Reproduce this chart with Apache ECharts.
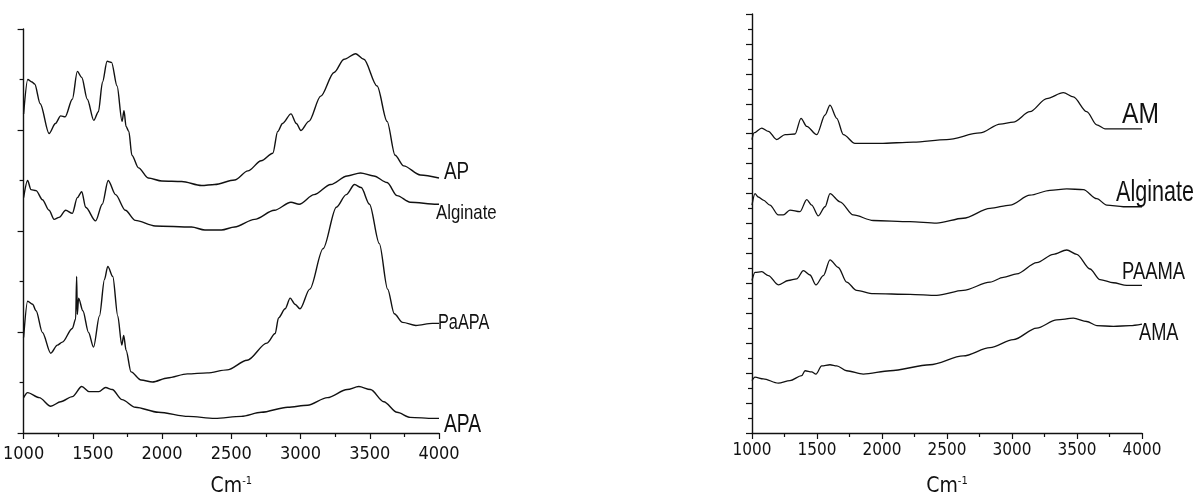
<!DOCTYPE html>
<html>
<head>
<meta charset="utf-8">
<script src="https://cdn.jsdelivr.net/npm/echarts@6/dist/echarts.min.js"></script>
<style>
html,body{margin:0;padding:0;background:#fff;}
#c{width:1196px;height:502px;}
</style>
</head>
<body>
<div id="c"></div>
<script>
// ---- Data (wavenumber cm^-1, relative transmittance offset units) ----
const xTicks = [1000, 1500, 2000, 2500, 3000, 3500, 4000];

// Left panel
const AP = [[1000,6.32],[1030,7.00],[1060,6.95],[1080,6.91],[1120,6.52],[1184,5.93],[1230,6.13],[1268,6.28],[1300,6.26],[1352,6.61],[1388,7.16],[1420,7.04],[1460,6.61],[1507,6.19],[1540,6.36],[1570,6.95],[1603,7.36],[1635,7.34],[1675,6.87],[1711,6.17],[1725,6.38],[1740,6.07],[1760,5.97],[1782,5.50],[1830,5.25],[1900,5.05],[1998,4.99],[2142,4.98],[2285,4.90],[2380,4.92],[2524,5.01],[2620,5.19],[2716,5.39],[2800,5.54],[2835,5.97],[2870,6.13],[2931,6.32],[2970,6.13],[3003,5.99],[3060,6.17],[3146,6.67],[3242,7.14],[3314,7.40],[3398,7.51],[3457,7.40],[3553,6.87],[3625,6.17],[3683,5.50],[3745,5.29],[3865,5.11],[4000,5.05]];
const AlginateL = [[1000,4.66],[1029,5.00],[1053,4.82],[1090,4.80],[1136,4.62],[1184,4.41],[1220,4.23],[1256,4.27],[1304,4.41],[1352,4.35],[1388,4.66],[1420,4.78],[1448,4.47],[1520,4.20],[1568,4.53],[1611,5.00],[1664,4.72],[1735,4.41],[1807,4.21],[1950,4.10],[2213,4.08],[2309,4.02],[2429,4.02],[2524,4.08],[2668,4.23],[2811,4.41],[2931,4.57],[2990,4.53],[3098,4.72],[3218,4.92],[3337,5.09],[3433,5.15],[3529,5.09],[3625,4.96],[3697,4.70],[3792,4.57],[3985,4.53],[4000,4.53]];
const PaAPA = [[1000,1.89],[1029,2.61],[1065,2.55],[1090,2.42],[1136,1.99],[1196,1.58],[1244,1.74],[1280,1.80],[1352,2.07],[1376,2.26],[1383,3.10],[1388,2.35],[1397,2.67],[1428,2.42],[1469,1.99],[1505,1.70],[1548,2.32],[1584,3.04],[1608,3.30],[1644,3.10],[1680,2.32],[1709,1.74],[1723,1.93],[1740,1.64],[1776,1.21],[1848,1.05],[1931,1.01],[2039,1.09],[2183,1.17],[2326,1.19],[2470,1.25],[2614,1.44],[2757,1.78],[2817,1.97],[2841,2.28],[2889,2.46],[2925,2.67],[2960,2.55],[2996,2.46],[3067,2.85],[3163,3.65],[3259,4.47],[3330,4.72],[3390,4.92],[3438,4.86],[3498,4.53],[3569,3.75],[3629,2.85],[3677,2.36],[3737,2.19],[3833,2.13],[3952,2.17],[4000,2.17]];
const APA = [[1000,0.70],[1029,0.80],[1113,0.70],[1196,0.53],[1268,0.62],[1352,0.72],[1420,0.92],[1472,0.82],[1544,0.82],[1592,0.90],[1640,0.86],[1711,0.66],[1807,0.51],[1974,0.41],[2189,0.33],[2381,0.29],[2572,0.33],[2716,0.41],[2907,0.51],[3051,0.55],[3194,0.70],[3337,0.86],[3421,0.92],[3505,0.86],[3601,0.62],[3697,0.41],[3792,0.31],[3960,0.29],[4000,0.29]];

// Right panel
const AM = [[1000,19.61],[1015,20.05],[1075,20.38],[1126,20.16],[1190,19.61],[1254,19.94],[1331,19.98],[1377,21.03],[1421,20.49],[1498,19.94],[1562,21.25],[1600,21.91],[1652,21.03],[1703,19.94],[1792,19.35],[1985,19.35],[2241,19.44],[2497,19.61],[2754,20.05],[2908,20.64],[3010,20.77],[3138,21.47],[3267,22.35],[3395,22.74],[3472,22.46],[3575,21.47],[3652,20.59],[3715,20.33],[4000,20.33]];
const AlginateR = [[1000,15.23],[1023,15.99],[1048,15.77],[1087,15.56],[1138,15.23],[1202,14.57],[1241,14.57],[1292,14.90],[1369,14.79],[1421,15.60],[1459,15.23],[1510,14.51],[1562,15.12],[1600,15.99],[1677,15.45],[1779,14.57],[1933,14.20],[2215,14.13],[2421,14.02],[2625,14.35],[2831,15.01],[2985,15.23],[3138,15.89],[3292,16.22],[3421,16.32],[3549,16.26],[3652,15.66],[3729,15.23],[3857,15.12],[4000,15.12]];
const PAAMA = [[1000,10.19],[1023,10.73],[1075,10.78],[1126,10.52],[1202,9.90],[1279,10.19],[1344,10.30],[1395,10.85],[1446,10.56],[1492,9.90],[1549,10.52],[1600,11.57],[1664,11.06],[1728,10.08],[1805,9.53],[1933,9.31],[2215,9.27],[2421,9.20],[2625,9.53],[2831,10.08],[2933,10.40],[3036,10.63],[3190,11.39],[3318,11.94],[3421,12.23],[3498,11.94],[3600,10.96],[3677,10.25],[3780,10.04],[3883,9.86],[4000,9.86]];
const AMA = [[1000,3.50],[1023,3.73],[1087,3.62],[1202,3.33],[1292,3.50],[1382,3.83],[1408,4.16],[1459,4.09],[1492,3.94],[1536,4.49],[1600,4.56],[1652,4.49],[1728,4.16],[1856,3.94],[2062,4.16],[2369,4.56],[2625,5.15],[2831,5.70],[3010,6.24],[3190,7.01],[3344,7.56],[3472,7.67],[3575,7.45],[3652,7.18],[3780,7.12],[3908,7.18],[4000,7.28]];

const leftSeries = [['AP', AP], ['Alginate', AlginateL], ['PaAPA', PaAPA], ['APA', APA]];
const rightSeries = [['AM', AM], ['Alginate', AlginateR], ['PAAMA', PAAMA], ['AMA', AMA]];

// ---- Chart ----
const chart = echarts.init(document.getElementById('c'), null, {renderer: 'canvas'});
const INK = '#111';
const tickFont = "Liberation Sans Narrow, DejaVu Sans Condensed, Liberation Sans, sans-serif";

function xAxisCfg(gridIndex, fs, margin) {
  return {
    type: 'value', gridIndex, min: xTicks[0], max: xTicks[xTicks.length - 1], interval: xTicks[1] - xTicks[0],
    axisLine: {show: true, onZero: false, lineStyle: {color: INK, width: 1.4}},
    axisTick: {show: true, inside: false, length: 6, lineStyle: {color: INK, width: 1.2}},
    minorTick: {show: true, splitNumber: 2, length: 4, lineStyle: {color: INK, width: 1.2}},
    splitLine: {show: false},
    axisLabel: {color: INK, fontSize: fs, fontFamily: tickFont, margin: margin, formatter: v => String(v)},
    name: '{a|Cm}{s|-1}', nameLocation: 'middle', nameGap: 43,
    nameTextStyle: {rich: {
      a: {fontSize: 21, fontFamily: tickFont, color: INK},
      s: {fontSize: 11, fontFamily: tickFont, color: INK, verticalAlign: 'top', padding: [0,0,9,0]}
    }}
  };
}
function yAxisCfg(gridIndex, max) {
  return {
    type: 'value', gridIndex, min: 0, max: max, interval: 2,
    axisLine: {show: true, onZero: false, lineStyle: {color: INK, width: 1.4}},
    axisTick: {show: true, inside: false, length: 6, lineStyle: {color: INK, width: 1.2}},
    minorTick: {show: true, splitNumber: 2, length: 4, lineStyle: {color: INK, width: 1.2}},
    splitLine: {show: false},
    axisLabel: {show: false}
  };
}

const series = [];
leftSeries.forEach(([n, d]) => series.push({
  name: n, type: 'line', xAxisIndex: 0, yAxisIndex: 0, data: d, showSymbol: false,
  smooth: 0.3, smoothMonotone: 'x', lineStyle: {color: INK, width: 1.4}, silent: true
}));
rightSeries.forEach(([n, d]) => series.push({
  name: n, type: 'line', xAxisIndex: 1, yAxisIndex: 1, data: d, showSymbol: false,
  smooth: 0.3, smoothMonotone: 'x', lineStyle: {color: INK, width: 1.3}, silent: true
}));

const labelFont = "Liberation Sans, Arial, sans-serif";
function lbl(text, x, y, size, sx) {
  return {type: 'text', x: x, y: y, scaleX: sx, silent: true,
    style: {text: text, fontSize: size, fontFamily: labelFont, fill: INK, verticalAlign: 'middle', align: 'left'}};
}

chart.setOption({
  animation: false,
  backgroundColor: '#fff',
  grid: [
    {left: 21, top: 29, width: 418, bottom: 63},
    {left: 752, top: 14, width: 390, bottom: 62}
  ],
  xAxis: [xAxisCfg(0, 18, 12), xAxisCfg(1, 17, 9)],
  yAxis: [yAxisCfg(0, 8), yAxisCfg(1, 28)],
  series: series,
  graphic: [
    lbl('AP', 444, 173, 23, 0.82),
    lbl('Alginate', 436, 213, 21, 0.8),
    lbl('PaAPA', 438, 323, 22, 0.74),
    lbl('APA', 444, 425, 25, 0.77),
    lbl('AM', 1122, 115, 30, 0.82),
    lbl('Alginate', 1116, 193, 30, 0.72),
    lbl('PAAMA', 1122, 273, 23, 0.8),
    lbl('AMA', 1139, 333, 24, 0.76)
  ]
});
</script>
</body>
</html>
